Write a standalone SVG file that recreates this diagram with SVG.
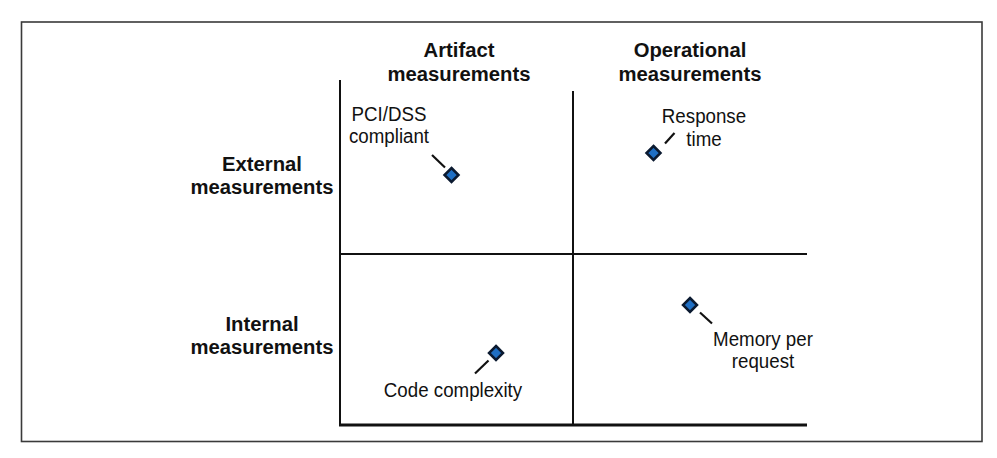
<svg xmlns="http://www.w3.org/2000/svg" width="997" height="458" viewBox="0 0 997 458">
  <style>
    .hdr { font-family: "Liberation Sans", Arial, sans-serif; font-weight: bold; font-size: 21px; fill: #111; text-anchor: middle; }
    .lbl { font-family: "Liberation Sans", Arial, sans-serif; font-size: 19.5px; fill: #111; text-anchor: middle; }
    .axis { stroke: #111; stroke-width: 2; fill: none; }
    .lead { stroke: #111; stroke-width: 2.2; stroke-linecap: butt; }
    .dot { fill: #1f6fc4; stroke: #0b1a30; stroke-width: 2.5; stroke-linejoin: miter; }
  </style>
  <defs>
    <path id="dia" d="M0,-7 L7,0 L0,7 L-7,0 Z"/>
  </defs>
  <rect width="997" height="458" fill="#fff"/>
  <rect x="21.5" y="22" width="960.5" height="419.5" fill="none" stroke="#3a3a3a" stroke-width="1.6"/>

  <g id="axes">
    <line class="axis" x1="340" y1="80" x2="340" y2="425"/>
    <line class="axis" x1="573" y1="91" x2="573" y2="425"/>
    <line class="axis" x1="340" y1="254" x2="807" y2="254"/>
    <line x1="339" y1="425" x2="807" y2="425" stroke="#111" stroke-width="3.2"/>
  </g>

  <g id="col-artifact" transform="translate(459,0) scale(0.965,1)">
    <text class="hdr" x="0" y="57">Artifact</text>
    <text class="hdr" x="0" y="81">measurements</text>
  </g>
  <g id="col-operational" transform="translate(690,0) scale(0.965,1)">
    <text class="hdr" x="0" y="57">Operational</text>
    <text class="hdr" x="0" y="81">measurements</text>
  </g>
  <g id="row-external" transform="translate(262,0) scale(0.965,1)">
    <text class="hdr" x="0" y="171">External</text>
    <text class="hdr" x="0" y="194">measurements</text>
  </g>
  <g id="row-internal" transform="translate(262,0) scale(0.965,1)">
    <text class="hdr" x="0" y="331">Internal</text>
    <text class="hdr" x="0" y="354">measurements</text>
  </g>

  <g id="connectors">
    <line class="lead" x1="432" y1="155" x2="445" y2="167.5"/>
    <line class="lead" x1="665" y1="143.5" x2="674.5" y2="133"/>
    <line class="lead" x1="475" y1="373.5" x2="488.5" y2="360.5"/>
    <line class="lead" x1="700" y1="312.5" x2="712" y2="323.5"/>
  </g>

  <g id="node-pci">
    <use href="#dia" class="dot" x="451.5" y="175"/>
    <g transform="translate(389,0) scale(0.96,1)">
      <text class="lbl" x="0" y="121">PCI/DSS</text>
      <text class="lbl" x="0" y="143">compliant</text>
    </g>
  </g>
  <g id="node-response">
    <use href="#dia" class="dot" x="653.5" y="153"/>
    <g transform="translate(704,0) scale(0.96,1)">
      <text class="lbl" x="0" y="123.5">Response</text>
      <text class="lbl" x="0" y="146.5">time</text>
    </g>
  </g>
  <g id="node-code">
    <use href="#dia" class="dot" x="496" y="353"/>
    <g transform="translate(453,0) scale(0.96,1)">
      <text class="lbl" x="0" y="397">Code complexity</text>
    </g>
  </g>
  <g id="node-memory">
    <use href="#dia" class="dot" x="690" y="305"/>
    <g transform="translate(763,0) scale(0.96,1)">
      <text class="lbl" x="0" y="346">Memory per</text>
      <text class="lbl" x="0" y="368.5">request</text>
    </g>
  </g>
</svg>
